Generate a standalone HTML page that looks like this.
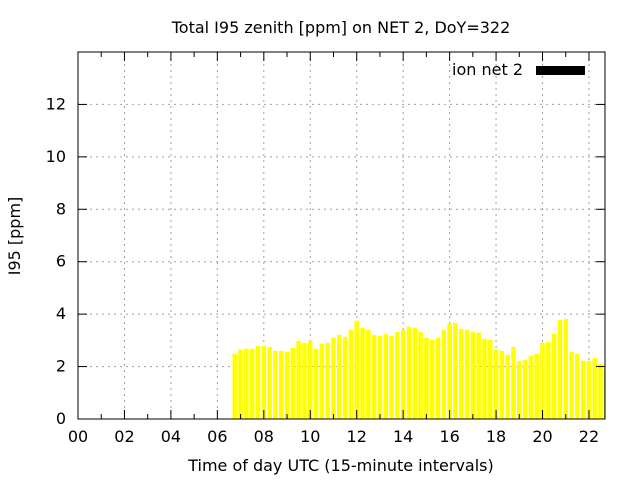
<!DOCTYPE html>
<html><head><meta charset="utf-8"><style>
html,body{margin:0;padding:0;background:#fff;}
svg text{font-family:"DejaVu Sans","Liberation Sans",sans-serif;font-size:16px;fill:#000;}
</style></head><body>
<svg id="chart" width="640" height="480" xmlns="http://www.w3.org/2000/svg">
<rect x="0" y="0" width="640" height="480" fill="#fff"/>
<g id="grid"></g>
<g id="bars"></g>
<g id="axes"></g>
<text x="341" y="33" text-anchor="middle">Total I95 zenith [ppm] on NET 2, DoY=322</text>
<text x="341" y="471" text-anchor="middle">Time of day UTC (15-minute intervals)</text>
<text transform="translate(20,236) rotate(-90)" text-anchor="middle">I95 [ppm]</text>
<g>
<text x="523" y="75" text-anchor="end">ion net 2</text>
<rect x="536" y="66" width="49" height="9" fill="#000"/>
</g>
</svg>
<script>
const startIndex = 27;
const values = [2.48,2.64,2.68,2.68,2.79,2.79,2.75,2.60,2.60,2.56,2.71,2.98,2.90,2.98,2.68,2.87,2.90,3.10,3.21,3.13,3.40,3.75,3.48,3.40,3.21,3.17,3.25,3.17,3.32,3.40,3.52,3.48,3.32,
3.10,3.02,3.10,3.40,3.63,3.67,3.44,3.40,3.32,3.29,3.06,3.02,2.64,2.60,2.45,2.75,2.22,2.25,2.41,2.48,2.90,2.94,3.25,3.78,3.82,2.56,2.48,2.22,2.22,2.33,2.10,1.91];
const xTicks = ["00","02","04","06","08","10","12","14","16","18","20","22"];
const yTicks = [0,2,4,6,8,10,12];

const L=78,R=605,T=52,B=419,XMAX=22.69,YMAX=14.0;
const xs=h=>L+h*(R-L)/XMAX, ys=v=>B-v*(B-T)/YMAX;
const NS="http://www.w3.org/2000/svg";
function mk(tag,attrs,parent){const e=document.createElementNS(NS,tag);for(const k in attrs)e.setAttribute(k,attrs[k]);parent.appendChild(e);return e;}
const grid=document.getElementById('grid'),bars=document.getElementById('bars'),axes=document.getElementById('axes');

yTicks.forEach(v=>{
  const y=ys(v);
  if(v>0){const g=mk('line',{x1:L,x2:R,y1:y,y2:y,stroke:'#a0a0a0','stroke-dasharray':'2,4','stroke-width':1},grid);
  
  }
  mk('line',{x1:L,x2:L+9,y1:y,y2:y,stroke:'#000'},axes);
  mk('line',{x1:R,x2:R-9,y1:y,y2:y,stroke:'#000'},axes);
  const t=mk('text',{x:L-12,y:y+5,'text-anchor':'end'},axes);t.textContent=v;
  
  
});
xTicks.forEach((lab,i)=>{
  const h=i*2,x=xs(h);
  if(i>0){const g=mk('line',{x1:x,x2:x,y1:T,y2:B,stroke:'#a0a0a0','stroke-dasharray':'2,4','stroke-width':1},grid);
  
  }
  mk('line',{x1:x,x2:x,y1:B,y2:B-9,stroke:'#000'},axes);
  mk('line',{x1:x,x2:x,y1:T,y2:T+9,stroke:'#000'},axes);
  const xm=xs(h+1);
  if(h+1<XMAX){mk('line',{x1:xm,x2:xm,y1:B,y2:B-5,stroke:'#000'},axes);mk('line',{x1:xm,x2:xm,y1:T,y2:T+5,stroke:'#000'},axes);}
  const t=mk('text',{x:x,y:B+23,'text-anchor':'middle'},axes);t.textContent=lab;
  
  
});
const bw=(xs(0.25)-xs(0))*0.78;
values.forEach((v,i)=>{
  const idx=startIndex+i, cx=xs(idx/4);
  const last=i===values.length-1;
  const w=Math.max(0,Math.min(bw,R-(cx-bw/2)));
  const b=mk('rect',{x:cx-bw/2,y:ys(v),width:w,height:B-ys(v),fill:last?'#8cc63f':'#ffff00'},bars);
  
  
});
const f=mk('rect',{x:L,y:T,width:R-L,height:B-T,fill:'none',stroke:'#000','stroke-width':1},axes);


</script>
</body></html>
